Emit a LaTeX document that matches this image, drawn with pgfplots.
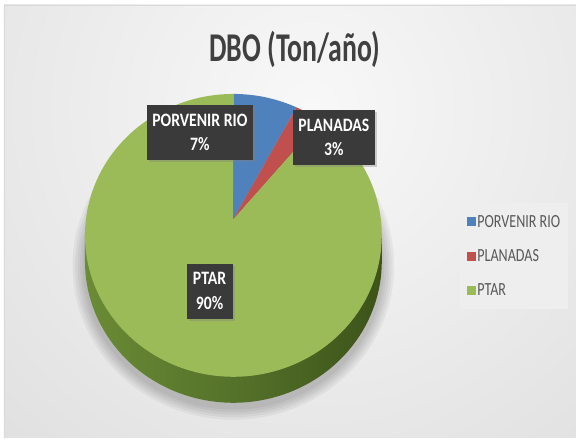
\documentclass[border=0pt]{standalone}
\usepackage{pgfplots}
\pgfplotsset{compat=1.18}
\usepackage{fontspec}
\setmainfont{Carlito}
\usetikzlibrary{shadows}
\definecolor{cblue}{HTML}{4F81BD}
\definecolor{cred}{HTML}{C0504D}
\definecolor{cgreen}{HTML}{9BBB59}
\definecolor{sideL}{HTML}{6B8B35}
\definecolor{sideM}{HTML}{55722A}
\definecolor{sideR}{HTML}{3C5319}
\definecolor{bgin}{HTML}{F8F8F8}
\definecolor{bgout}{HTML}{C4C4C4}
\definecolor{lblbg}{HTML}{3A3A3A}
\definecolor{ttl}{HTML}{404040}
\definecolor{legtext}{HTML}{595959}
\definecolor{legbg}{HTML}{EEEEEE}
% data (percent shares)
\def\vA{7}   % PORVENIR RIO
\def\vB{3}   % PLANADAS
\def\vC{90}  % PTAR
\begin{document}
\begin{tikzpicture}[x=1bp,y=1bp]
\pgfmathsetmacro\aA{360*\vA/(\vA+\vB+\vC)}
\pgfmathsetmacro\aB{360*(\vA+\vB)/(\vA+\vB+\vC)}
\fill[white] (0,0) rectangle (576,438);
\begin{scope}
\clip (4,0) rectangle (576,433);
\shade[inner color=bgin, outer color=bgout] (310,330) circle (1000);
\end{scope}
\draw[black!15, line width=0.6bp] (4,0) -- (4,433) -- (576,433);
\begin{axis}[at={(0,0)}, anchor=south west, x=1bp, y=1bp,
  xmin=0, xmax=576, ymin=0, ymax=438, hide axis, clip=false,
  legend style={at={(axis cs:460,235)}, anchor=north west, draw=none, fill=legbg,
    font=\fontsize{18.6}{20}\selectfont, text=legtext, inner xsep=7bp, inner ysep=11bp,
    row sep=19bp, nodes={inner sep=1bp}},
  legend cell align=left,
  legend image code/.code={\fill[#1, draw=none] (0bp,-4.6bp) rectangle (9.4bp,4.6bp);},
]
% soft shadow
\foreach \k in {1,...,5}{
\addplot[forget plot, draw=none, fill=black, fill opacity=0.045, domain=0:360, samples=90]
  ({233.5+(148.5+2.5*\k)*sin(x)}, {172+(141.5+2.5*\k)*cos(x)}) -- cycle;
}
% side of the pie
\addplot[forget plot, draw=none, left color=sideL, right color=sideR, middle color=sideM,
  domain=90:270, samples=80]
  ({233.5+148.5*sin(x)}, {176.5+141.5*cos(x)}) -- (axis cs:85,202.5) -- (axis cs:382,202.5) -- cycle;
% top face slices
\addplot[forget plot, draw=none, fill=cblue, domain=0:\aA, samples=30]
  ({233.5+148.5*sin(x)}, {202.5+141.5*cos(x)}) -- (axis cs:233,218) -- cycle;
\addplot[forget plot, draw=none, fill=cred, domain=\aA:\aB, samples=20]
  ({233.5+148.5*sin(x)}, {202.5+141.5*cos(x)}) -- (axis cs:233,218) -- cycle;
\addplot[forget plot, draw=none, fill=cgreen, domain=\aB:360, samples=150]
  ({233.5+148.5*sin(x)}, {202.5+141.5*cos(x)}) -- (axis cs:233,218) -- cycle;
% legend
\addlegendimage{fill=cblue, draw=none}
\addlegendentry{\scalebox{0.76}[1]{PORVENIR RIO}}
\addlegendimage{fill=cred, draw=none}
\addlegendentry{\scalebox{0.76}[1]{PLANADAS}}
\addlegendimage{fill=cgreen, draw=none}
\addlegendentry{\scalebox{0.76}[1]{PTAR}}
% title
\node[anchor=base, text=ttl] at (axis cs:295,376)
  {\fontsize{41}{41}\selectfont\bfseries\scalebox{0.68}[1]{DBO (Ton/año)}};
% data labels
\tikzset{lbl/.style={fill=lblbg, text=white, inner sep=0pt, minimum height=55bp,
  align=center, font=\fontsize{19}{25}\selectfont\bfseries,
  drop shadow={shadow xshift=2.5bp, shadow yshift=-2.5bp, opacity=0.35}}}
\node[lbl, minimum width=106bp] at (axis cs:200,305.5)
  {\scalebox{0.83}[1]{PORVENIR RIO}\\\scalebox{0.83}[1]{7\%}};
\node[lbl, minimum width=82bp] at (axis cs:334,300.5)
  {\scalebox{0.83}[1]{PLANADAS}\\\scalebox{0.83}[1]{3\%}};
\node[lbl, minimum width=46bp] at (axis cs:209.7,146.5)
  {\scalebox{0.83}[1]{PTAR}\\\scalebox{0.83}[1]{90\%}};
\end{axis}
\end{tikzpicture}
\end{document}
